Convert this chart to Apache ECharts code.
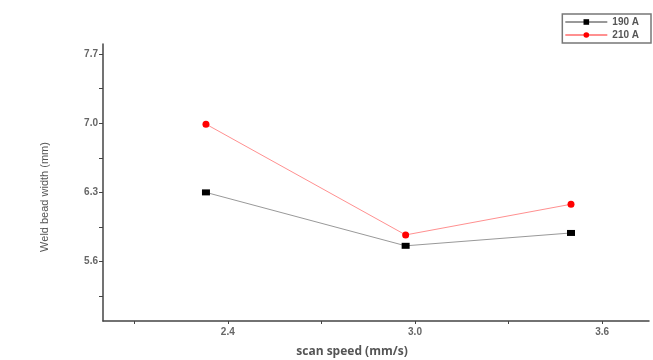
<!DOCTYPE html>
<html>
<head>
<meta charset="utf-8">
<script src="https://cdn.jsdelivr.net/npm/echarts@6/dist/echarts.min.js"></script>
<style>html,body{margin:0;padding:0;background:#fff}#c{width:653px;height:360px}</style>
</head>
<body>
<div id="c"></div>
<script>
const scanSpeed = [2.33, 2.97, 3.5];
const width190 = [6.30, 5.76, 5.89];
const width210 = [6.99, 5.87, 6.18];
const xTicks = [2.1, 2.4, 2.7, 3.0, 3.3, 3.6];
const xLabels = [2.4, 3.0, 3.6];
const yTicks = [5.25, 5.6, 5.95, 6.3, 6.65, 7.0, 7.35, 7.7];
const yLabels = [5.6, 6.3, 7.0, 7.7];
const xTitle = 'scan speed (mm/s)';
const yTitle = 'Weld bead width (mm)';

const chart = echarts.init(document.getElementById('c'));
const axisTextColor = '#666';
chart.setOption({
  animation: false,
  backgroundColor: '#fff',
  grid: { left: 103, right: 4, top: 44, bottom: 39 },
  legend: {
    right: 2, top: 14,
    orient: 'vertical',
    itemWidth: 42, itemHeight: 7, itemGap: 3,
    padding: [3, 12, 3, 2],
    borderColor: '#777', borderWidth: 1.5,
    textStyle: { fontSize: 10, fontWeight: 'bold', color: '#555', fontFamily: 'Liberation Sans' },
    data: ['190 A', '210 A']
  },
  graphic: [
    {
      type: 'text', x: 45, y: 197, rotation: Math.PI / 2,
      style: { text: yTitle, align: 'center', verticalAlign: 'middle', fontSize: 11, fill: '#555', fontFamily: 'Liberation Sans' }
    },
    {
      type: 'text', x: 352, y: 352,
      style: { text: xTitle, align: 'center', verticalAlign: 'middle', fontSize: 12, fontWeight: 'bold', fill: '#555', fontFamily: 'Open Sans' }
    }
  ],
  xAxis: {
    type: 'value', min: 2.0, max: 3.75,
    splitLine: { show: false },
    axisLine: { lineStyle: { color: '#444', width: 1.5 } },
    axisTick: { customValues: xTicks, length: 3, lineStyle: { color: '#444' } },
    axisLabel: { customValues: xLabels, formatter: v => v.toFixed(1), fontSize: 10, fontWeight: 'bold', color: axisTextColor, fontFamily: 'Liberation Sans', margin: 6 }
  },
  yAxis: {
    type: 'value', min: 5.0, max: 7.8,
    splitLine: { show: false },
    axisLine: { show: true, lineStyle: { color: '#444', width: 1.5 } },
    axisTick: { customValues: yTicks, length: 4, lineStyle: { color: '#444' } },
    axisLabel: { customValues: yLabels, formatter: v => v.toFixed(1), fontSize: 10, fontWeight: 'bold', color: axisTextColor, fontFamily: 'Liberation Sans', margin: 5 }
  },
  series: [
    {
      name: '190 A', type: 'line',
      data: scanSpeed.map((x, i) => [x, width190[i]]),
      symbol: 'rect', symbolSize: [8, 6],
      itemStyle: { color: '#000' },
      lineStyle: { color: '#999', width: 1 }
    },
    {
      name: '210 A', type: 'line',
      data: scanSpeed.map((x, i) => [x, width210[i]]),
      symbol: 'circle', symbolSize: 7,
      itemStyle: { color: '#f00' },
      lineStyle: { color: '#ff9090', width: 1 }
    }
  ]
});
</script>
</body>
</html>
